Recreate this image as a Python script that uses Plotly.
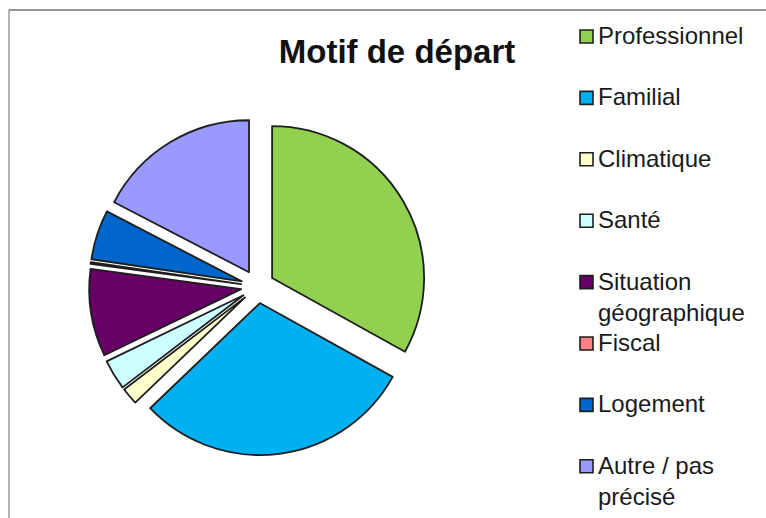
import plotly.graph_objects as go

# ---- data ----
labels = ["Professionnel", "Familial", "Climatique", "Santé",
          "Situation géographique", "Fiscal", "Logement", "Autre / pas précisé"]
legend_text = ["Professionnel", "Familial", "Climatique", "Santé",
               "Situation<br>géographique", "Fiscal", "Logement", "Autre / pas<br>précisé"]
values = [33.1, 29.8, 1.8, 3.2, 9.3, 0.2, 5.3, 17.4]
colors = ["#92D050", "#00B0F0", "#FFFFCC", "#CCFFFF",
          "#660066", "#FF8080", "#0066CC", "#9999FF"]
title_text = "Motif de départ"

W, H = 766, 518

def px(x):
    return x / W

def py(y):
    return 1 - y / H

fig = go.Figure(go.Pie(
    labels=labels,
    values=values,
    sort=False,
    direction="clockwise",
    rotation=0,
    pull=[0.11] * len(values),
    textinfo="none",
    marker=dict(colors=colors, line=dict(color="#1e1e1e", width=1.8)),
    domain=dict(x=[px(89), px(426.4)], y=[py(455.2), py(117.8)]),
    showlegend=False,
))

shapes = []
annotations = []
# frame lines
shapes.append(dict(type="line", xref="paper", yref="paper", x0=px(9), x1=1.0, y0=py(10), y1=py(10),
                   line=dict(color="#707070", width=1.5)))
shapes.append(dict(type="line", xref="paper", yref="paper", x0=px(9), x1=px(9), y0=py(10), y1=0,
                   line=dict(color="#9a9a9a", width=1.5)))

# legend (symbols + text)
step = 61.4
top = 36.5
fs = 24
for i, (t, c) in enumerate(zip(legend_text, colors)):
    yc = top + i * step
    shapes.append(dict(type="rect", xref="paper", yref="paper",
                       x0=px(580), x1=px(593), y0=py(yc - 6.5), y1=py(yc + 6.5),
                       fillcolor=c, line=dict(color="#1e1e1e", width=1.6)))
    annotations.append(dict(text=t, xref="paper", yref="paper", x=px(596), y=py(yc - fs * 0.65 - 1),
                            xanchor="left", yanchor="top", align="left", showarrow=False,
                            font=dict(family="Liberation Sans, Arial, sans-serif", size=fs, color="#1a1a1a")))

fig.update_layout(
    width=W, height=H,
    margin=dict(l=0, r=0, t=0, b=0),
    paper_bgcolor="white",
    plot_bgcolor="white",
    title=dict(text=title_text, x=px(397), y=py(51), xref="paper", yref="container",
               xanchor="center", yanchor="middle",
               font=dict(family="Liberation Sans, Arial, sans-serif", size=33, color="#111111", weight="bold")),
    shapes=shapes,
    annotations=annotations,
)

fig.write_html("out.html", config={"displayModeBar": False},
               post_script="document.body.style.margin='0';")
